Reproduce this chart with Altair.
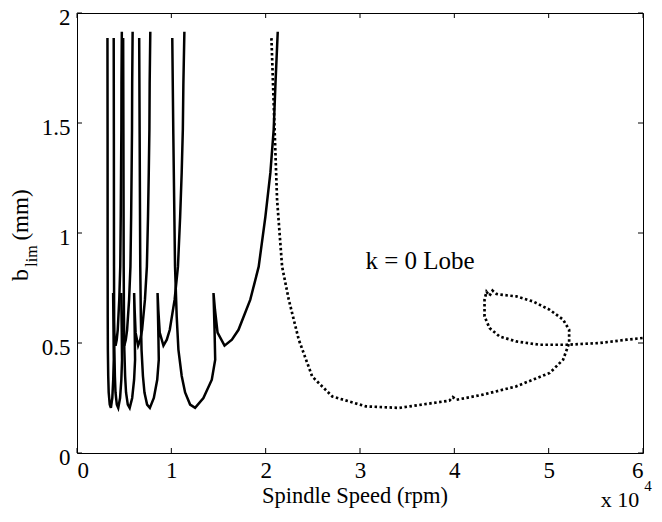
import altair as alt
import pandas as pd

FONT = "Liberation Serif"

# ---- data ----
x_ticks = [0, 10000, 20000, 30000, 40000, 50000, 60000]
y_ticks = [0, 0.5, 1, 1.5, 2]

# b_lim values along each k>=1 lobe (same shape for every lobe)
lobe_b = [1.886, 1.45, 0.85, 0.62, 0.47, 0.35, 0.275, 0.22, 0.205, 0.25, 0.333,
          0.424, 0.56, 0.727, 0.65, 0.547, 0.488, 0.515, 0.56, 0.697, 0.847,
          1.074, 1.274, 1.47, 1.68, 1.915]
k1_x = [10100, 10210, 10390, 10570, 10750, 11100, 11460, 11990, 12520, 13400, 14290,
        14650, 14580, 14470, 14630, 14900, 15640, 16420, 17120, 18370, 19260,
        19970, 20500, 20850, 21040, 21280]
k2_x = [6593, 6640, 6706, 6768, 6841, 6989, 7152, 7431, 7724, 8145, 8504,
        8670, 8617, 8540, 8622, 8769, 9163, 9520, 9835, 10348, 10701,
        10934, 11097, 11219, 11277, 11383]
k3_x = [4893, 4920, 4950, 4977, 5017, 5100, 5198, 5384, 5584, 5850, 6053,
        6157, 6115, 6057, 6112, 6212, 6480, 6704, 6899, 7203, 7407,
        7527, 7608, 7675, 7703, 7770]
k4_x = [3891, 3907, 3923, 3936, 3960, 4015, 4082, 4222, 4372, 4565, 4700,
        4773, 4740, 4693, 4734, 4810, 5013, 5174, 5312, 5524, 5664,
        5739, 5787, 5832, 5849, 5897]
k5_x = [3229, 3241, 3249, 3256, 3271, 3310, 3361, 3471, 3593, 3743, 3840,
        3898, 3870, 3830, 3862, 3925, 4087, 4212, 4319, 4480, 4586,
        4637, 4670, 4704, 4715, 4752]

# k = 0 lobe (dotted)
k0_x = [20610, 20960, 21210, 21740, 22450, 23510, 24930, 27060, 30610, 34150,
        37700, 39470, 39830, 40220, 43020, 46570, 50110, 51530, 52170, 52170,
        51530, 50110, 48340, 46570, 44790, 44470, 44050, 43730, 43410, 43200,
        43200, 43730, 44790, 46570, 49050, 51890, 55430, 58270, 60000]
k0_b = [1.886, 1.455, 1.151, 0.848, 0.697, 0.515, 0.348, 0.257, 0.212, 0.205,
        0.227, 0.238, 0.254, 0.242, 0.265, 0.303, 0.364, 0.424, 0.50, 0.56,
        0.606, 0.651, 0.689, 0.712, 0.72, 0.723, 0.738, 0.715, 0.733, 0.697,
        0.621, 0.568, 0.53, 0.507, 0.492, 0.492, 0.50, 0.515, 0.523]

annot_text = ["k = 0 Lobe"]
annot_x = [36360]
annot_b = [0.838]

# ---- tables ----
rows = []
for name, xs in [("k1", k1_x), ("k2", k2_x), ("k3", k3_x), ("k4", k4_x), ("k5", k5_x)]:
    for i, (x, b) in enumerate(zip(xs, lobe_b)):
        rows.append({"lobe": name, "idx": i, "speed": x, "b": b})
lobes = pd.DataFrame(rows)
k0 = pd.DataFrame({"idx": list(range(len(k0_x))), "speed": k0_x, "b": k0_b})
xt = pd.DataFrame({"speed": x_ticks})
yt = pd.DataFrame({"b": y_ticks})
ann = pd.DataFrame({"t": annot_text, "speed": annot_x, "b": annot_b})
one = pd.DataFrame({"a": [0]})

W, H = 566, 440

xscale = alt.Scale(domain=[0, 60000], nice=False, zero=False)
yscale = alt.Scale(domain=[0, 2], nice=False)
X = alt.X("speed:Q", scale=xscale,
          axis=alt.Axis(values=x_ticks, labelExpr="datum.value / 10000", title=None,
                        ticks=False, domain=False, grid=False, labelFont=FONT,
                        labelFontSize=23, labelColor="black", labelPadding=6))
Y = alt.Y("b:Q", scale=yscale,
          axis=alt.Axis(values=y_ticks, format="~g", title=None, ticks=False,
                        domain=False, grid=False, labelFont=FONT, labelFontSize=23,
                        labelColor="black", labelPadding=7, labelOffset=4))

solid = alt.Chart(lobes).mark_line(color="black", strokeWidth=2.5).encode(
    x=X, y=Y, detail="lobe:N", order="idx:Q")
dotted = alt.Chart(k0).mark_line(color="black", strokeWidth=2.7,
                                 strokeDash=[2.5, 2.5]).encode(
    x=X, y=Y, order="idx:Q")

tick_style = dict(color="black", strokeWidth=1)
xb = alt.Chart(xt).mark_rule(**tick_style).encode(x=X, y=alt.value(H), y2=alt.value(H - 5))
xtp = alt.Chart(xt).mark_rule(**tick_style).encode(x=X, y=alt.value(0), y2=alt.value(5))
yl = alt.Chart(yt).mark_rule(**tick_style).encode(y=Y, x=alt.value(0), x2=alt.value(5))
yr = alt.Chart(yt).mark_rule(**tick_style).encode(y=Y, x=alt.value(W), x2=alt.value(W - 5))

annot = alt.Chart(ann).mark_text(font=FONT, fontSize=25, align="center",
                                 baseline="alphabetic", color="black").encode(
    x=X, y=Y, text="t:N")

def label(txt, x, y, size, angle=0, baseline="alphabetic"):
    return alt.Chart(one).mark_text(font=FONT, fontSize=size, align="center",
                                    baseline=baseline, angle=angle,
                                    color="black").encode(
        x=alt.value(x), y=alt.value(y), text=alt.value(txt))

xtitle = label("Spindle Speed (rpm)", 278, 490, 22.5)
xexp = label("x 10", 543, 494, 22)
xexp4 = label("4", 571, 478, 15)
yb = label("b", -56, 262, 24, angle=270, baseline="middle")
ylim = label("lim", -45, 243, 16, angle=270, baseline="middle")
ymm = label("(mm)", -56, 202, 23, angle=270, baseline="middle")

chart = alt.layer(solid, dotted, xb, xtp, yl, yr, annot, xtitle, xexp, xexp4,
                  yb, ylim, ymm).properties(
    width=W, height=H,
    autosize=alt.AutoSizeParams(type="none"),
    padding={"left": 69, "top": 5, "right": 11, "bottom": 58},
).configure_view(stroke="black", strokeWidth=1)

chart.save("out.html", embed_options={"renderer": "svg", "actions": False})
